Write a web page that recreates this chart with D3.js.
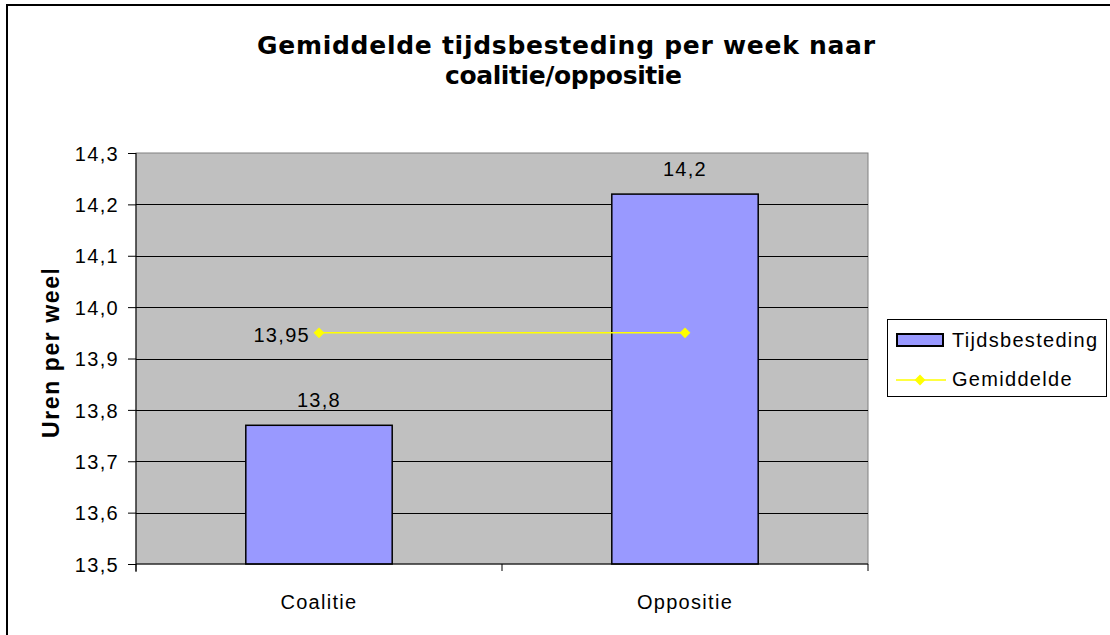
<!DOCTYPE html>
<meta charset="utf-8">
<style>
  body { margin: 0; background: #fff; }
  text { font-family: "Liberation Sans", Arial, sans-serif; fill: #000; }
</style>
<svg width="1110" height="635"></svg>
<script src="https://d3js.org/d3.v7.min.js"></script>
<script>

var categories = ["Coalitie", "Oppositie"];
var tijdsbesteding = [13.77, 14.22];
var barLabels = ["13,8", "14,2"];
var gemiddelde = [13.95, 13.95];
var gemLabel = "13,95";
var yTicks = [13.5, 13.6, 13.7, 13.8, 13.9, 14.0, 14.1, 14.2, 14.3];

var svg = d3.select("svg");

var plot = {left: 136, right: 868, top: 153, bottom: 564};

var plotBg = "#c0c0c0";
var barFill = "#9999ff";
var lineColor = "#ffff00";
var fontSize = "20px";
var spacing = "1.3px";

var fmt = function(v) { return d3.format(".1f")(v).replace(".", ","); };

// outer chart border
svg.append("rect")
    .attr("x", 7).attr("y", 5)
    .attr("width", 1120).attr("height", 650)
    .attr("fill", "#fff")
    .attr("stroke", "#000")
    .attr("stroke-width", 2);

var x = d3.scaleBand()
    .domain(categories)
    .range([plot.left, plot.right])
    .paddingInner(0.6)
    .paddingOuter(0.3);

var xc = d3.scalePoint()
    .domain(categories)
    .range([plot.left, plot.right])
    .padding(0.5);

var y = d3.scaleLinear()
    .domain([13.5, 14.3])
    .range([plot.bottom, plot.top]);

// plot area
svg.append("rect")
    .attr("x", plot.left).attr("y", plot.top)
    .attr("width", plot.right - plot.left)
    .attr("height", plot.bottom - plot.top)
    .attr("fill", plotBg)
    .attr("stroke", "#808080")
    .attr("stroke-width", 1);

// gridlines
svg.append("g")
    .selectAll("line")
    .data(yTicks.slice(1, -1))
    .enter().append("line")
    .attr("x1", plot.left).attr("x2", plot.right)
    .attr("y1", function(d) { return Math.round(y(d)) + 0.5; })
    .attr("y2", function(d) { return Math.round(y(d)) + 0.5; })
    .attr("stroke", "#000")
    .attr("stroke-width", 1);

// bars
svg.append("g")
    .selectAll("rect")
    .data(tijdsbesteding)
    .enter().append("rect")
    .attr("x", function(d, i) { return x(categories[i]); })
    .attr("y", function(d) { return y(d); })
    .attr("width", x.bandwidth())
    .attr("height", function(d) { return plot.bottom - y(d); })
    .attr("fill", barFill)
    .attr("stroke", "#000")
    .attr("stroke-width", 1.5);

// bar labels
svg.append("g")
    .selectAll("text")
    .data(tijdsbesteding)
    .enter().append("text")
    .attr("x", function(d, i) { return xc(categories[i]); })
    .attr("y", function(d) { return y(d) - 18; })
    .attr("text-anchor", "middle")
    .style("font-size", fontSize)
    .style("letter-spacing", spacing)
    .text(function(d, i) { return barLabels[i]; });

// average line
var line = d3.line()
    .x(function(d, i) { return xc(categories[i]); })
    .y(function(d) { return y(d); });

svg.append("path")
    .datum(gemiddelde)
    .attr("d", line)
    .attr("fill", "none")
    .attr("stroke", lineColor)
    .attr("stroke-width", 1.5);

var diamond = d3.symbol().type(d3.symbolDiamond2).size(75);

svg.append("g")
    .selectAll("path")
    .data(gemiddelde)
    .enter().append("path")
    .attr("d", diamond)
    .attr("transform", function(d, i) { return "translate(" + xc(categories[i]) + "," + y(d) + ")"; })
    .attr("fill", lineColor);

svg.append("text")
    .attr("x", xc(categories[0]) - 9)
    .attr("y", y(gemiddelde[0]) + 9)
    .attr("text-anchor", "end")
    .style("font-size", fontSize)
    .style("letter-spacing", spacing)
    .text(gemLabel);

// y axis
var yAxis = svg.append("g")
    .attr("transform", "translate(" + plot.left + ",0)")
    .call(d3.axisLeft(y).tickValues(yTicks).tickSize(8).tickFormat(fmt));
yAxis.select(".domain").attr("stroke", "#000").attr("d", "M0," + plot.top + "V" + (plot.bottom + 8));
yAxis.selectAll(".tick line").attr("stroke", "#000");
yAxis.selectAll(".tick text")
    .attr("x", -17)
    .attr("dy", "0.36em")
    .style("font-family", "'Liberation Sans', Arial, sans-serif")
    .style("font-size", fontSize)
    .style("letter-spacing", spacing)
    .attr("fill", "#000");

// x axis
var xAxis = svg.append("g")
    .attr("transform", "translate(0," + plot.bottom + ")");
xAxis.append("line")
    .attr("x1", plot.left).attr("x2", plot.right)
    .attr("stroke", "#000");
xAxis.selectAll(".tk")
    .data([plot.left, (plot.left + plot.right) / 2, plot.right])
    .enter().append("line")
    .attr("x1", function(d) { return d; }).attr("x2", function(d) { return d; })
    .attr("y1", 0).attr("y2", 7)
    .attr("stroke", "#000");
xAxis.selectAll("text")
    .data(categories)
    .enter().append("text")
    .attr("x", function(d) { return xc(d); })
    .attr("y", 45)
    .attr("text-anchor", "middle")
    .style("font-size", fontSize)
    .style("letter-spacing", spacing)
    .text(function(d) { return d; });

// y axis title (clipped like the original)
svg.append("clipPath").attr("id", "yclip")
    .append("rect").attr("x", 20).attr("y", 270).attr("width", 50).attr("height", 200);
svg.append("g")
    .attr("clip-path", "url(#yclip)")
    .append("text")
    .attr("transform", "translate(59,438) rotate(-90)")
    .style("font-size", "23px")
    .style("font-weight", "bold")
    .style("letter-spacing", "1.6px")
    .text("Uren per week");

// title
var title = svg.append("text")
    .style("font-family", "'DejaVu Sans', Verdana, sans-serif")
    .style("font-size", "25px")
    .style("font-weight", "bold");
title.append("tspan").attr("x", 257).attr("y", 54)
    .attr("textLength", 618).attr("lengthAdjust", "spacing")
    .text("Gemiddelde tijdsbesteding per week naar");
title.append("tspan").attr("x", 445).attr("y", 84)
    .attr("textLength", 237).attr("lengthAdjust", "spacing")
    .text("coalitie/oppositie");

// legend
var legend = svg.append("g");
legend.append("rect")
    .attr("x", 887.5).attr("y", 319.5)
    .attr("width", 219).attr("height", 77)
    .attr("fill", "#fff")
    .attr("stroke", "#000");
legend.append("rect")
    .attr("x", 897).attr("y", 334)
    .attr("width", 46).attr("height", 12)
    .attr("fill", barFill)
    .attr("stroke", "#000")
    .attr("stroke-width", 2);
legend.append("text")
    .attr("x", 952).attr("y", 347)
    .style("font-size", fontSize)
    .style("letter-spacing", spacing)
    .text("Tijdsbesteding");
legend.append("line")
    .attr("x1", 896).attr("x2", 946)
    .attr("y1", 380).attr("y2", 380)
    .attr("stroke", lineColor)
    .attr("stroke-width", 1.5);
legend.append("path")
    .attr("d", diamond)
    .attr("transform", "translate(920,380)")
    .attr("fill", lineColor);
legend.append("text")
    .attr("x", 952).attr("y", 386)
    .style("font-size", fontSize)
    .style("letter-spacing", spacing)
    .text("Gemiddelde");

</script>
